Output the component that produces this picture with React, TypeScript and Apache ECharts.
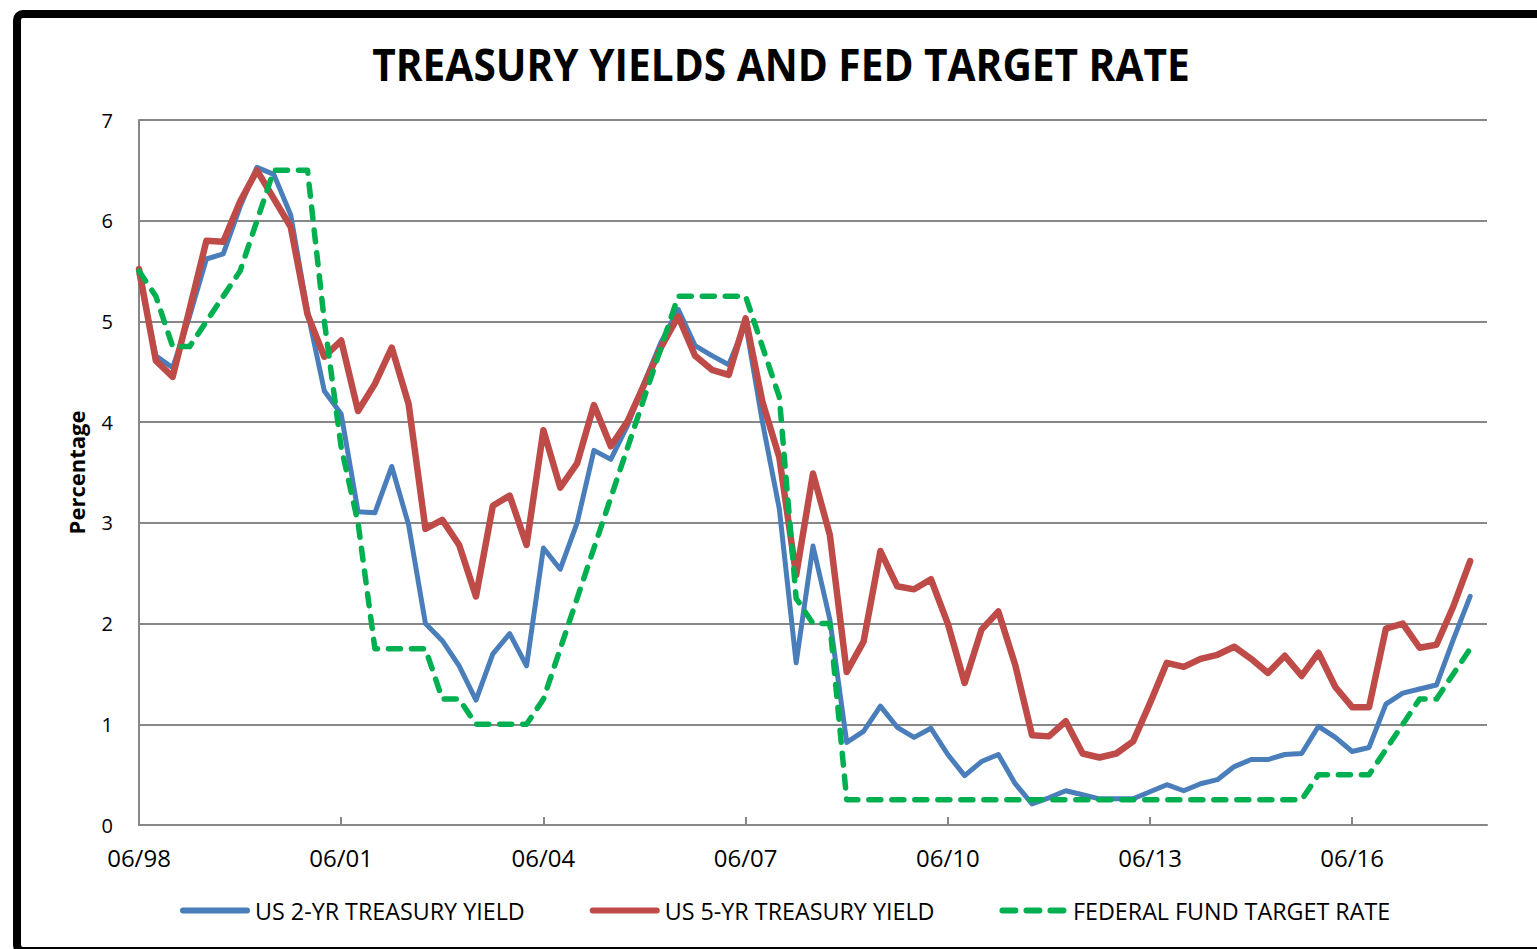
import React, { useEffect, useRef } from "react";
import * as echarts from "echarts";

const categories = [
  "06/98", "09/98", "12/98",
  "03/99", "06/99", "09/99", "12/99",
  "03/00", "06/00", "09/00", "12/00",
  "03/01", "06/01", "09/01", "12/01",
  "03/02", "06/02", "09/02", "12/02",
  "03/03", "06/03", "09/03", "12/03",
  "03/04", "06/04", "09/04", "12/04",
  "03/05", "06/05", "09/05", "12/05",
  "03/06", "06/06", "09/06", "12/06",
  "03/07", "06/07", "09/07", "12/07",
  "03/08", "06/08", "09/08", "12/08",
  "03/09", "06/09", "09/09", "12/09",
  "03/10", "06/10", "09/10", "12/10",
  "03/11", "06/11", "09/11", "12/11",
  "03/12", "06/12", "09/12", "12/12",
  "03/13", "06/13", "09/13", "12/13",
  "03/14", "06/14", "09/14", "12/14",
  "03/15", "06/15", "09/15", "12/15",
  "03/16", "06/16", "09/16", "12/16",
  "03/17", "06/17", "09/17", "12/17",
  "03/18", "06/18",
];

const yTicks = [0, 1, 2, 3, 4, 5, 6, 7];

const us2yr = [
  5.47, 4.66, 4.54, 5.05, 5.62, 5.67, 6.14, 6.53, 6.46, 6.06,
  5.10, 4.31, 4.08, 3.11, 3.10, 3.56, 2.98, 2.00, 1.83, 1.58,
  1.24, 1.70, 1.90, 1.58, 2.75, 2.54, 3.00, 3.72, 3.63, 3.97,
  4.40, 4.80, 5.12, 4.76, 4.66, 4.57, 4.98, 4.00, 3.14, 1.61,
  2.77, 2.04, 0.82, 0.93, 1.18, 0.97, 0.87, 0.96, 0.70, 0.49,
  0.63, 0.70, 0.41, 0.21, 0.27, 0.34, 0.30, 0.26, 0.26, 0.26,
  0.33, 0.40, 0.34, 0.41, 0.45, 0.58, 0.65, 0.65, 0.70, 0.71,
  0.98, 0.87, 0.73, 0.77, 1.20, 1.31, 1.35, 1.39, 1.84, 2.27,
];

const us5yr = [
  5.52, 4.61, 4.45, 5.12, 5.80, 5.79, 6.19, 6.50, 6.22, 5.94,
  5.07, 4.65, 4.81, 4.11, 4.38, 4.74, 4.18, 2.94, 3.03, 2.78,
  2.27, 3.17, 3.27, 2.78, 3.92, 3.35, 3.59, 4.17, 3.76, 4.01,
  4.38, 4.75, 5.05, 4.66, 4.52, 4.47, 5.03, 4.20, 3.65, 2.48,
  3.49, 2.88, 1.52, 1.82, 2.72, 2.37, 2.34, 2.44, 2.00, 1.41,
  1.94, 2.12, 1.59, 0.89, 0.88, 1.03, 0.71, 0.67, 0.71, 0.83,
  1.21, 1.61, 1.57, 1.65, 1.69, 1.77, 1.65, 1.51, 1.68, 1.48,
  1.71, 1.37, 1.17, 1.17, 1.95, 2.00, 1.76, 1.79, 2.17, 2.62,
];

const fedTarget = [
  5.50, 5.25, 4.75, 4.75, 5.00, 5.25, 5.50, 6.00, 6.50, 6.50,
  6.50, 5.00, 3.75, 3.00, 1.75, 1.75, 1.75, 1.75, 1.25, 1.25,
  1.00, 1.00, 1.00, 1.00, 1.25, 1.75, 2.25, 2.75, 3.25, 3.75,
  4.25, 4.75, 5.25, 5.25, 5.25, 5.25, 5.25, 4.75, 4.25, 2.25,
  2.00, 2.00, 0.25, 0.25, 0.25, 0.25, 0.25, 0.25, 0.25, 0.25,
  0.25, 0.25, 0.25, 0.25, 0.25, 0.25, 0.25, 0.25, 0.25, 0.25,
  0.25, 0.25, 0.25, 0.25, 0.25, 0.25, 0.25, 0.25, 0.25, 0.25,
  0.50, 0.50, 0.50, 0.50, 0.75, 1.00, 1.25, 1.25, 1.50, 1.75,
];

const seriesNames = [
  "US 2-YR TREASURY YIELD",
  "US 5-YR TREASURY YIELD",
  "FEDERAL FUND TARGET RATE",
];

const titleText = "TREASURY YIELDS AND FED TARGET RATE";
const yAxisName = "Percentage";

const solidIcon =
  "path://M3,0 L67,0 A3,3 0 0 1 67,6 L3,6 A3,3 0 0 1 3,0 Z";
const dashIcon =
  "path://M3,0 L16,0 A3,3 0 0 1 16,6 L3,6 A3,3 0 0 1 3,0 Z " +
  "M27,0 L40,0 A3,3 0 0 1 40,6 L27,6 A3,3 0 0 1 27,0 Z " +
  "M51,0 L64,0 A3,3 0 0 1 64,6 L51,6 A3,3 0 0 1 51,0 Z";

export default function App() {
  const ref = useRef<HTMLDivElement>(null);

  useEffect(() => {
    document.body.style.margin = "0";
    document.body.style.overflow = "hidden";
    if (!ref.current) return;
    const chart = echarts.init(ref.current, null, { renderer: "svg" });
    const gridColor = "#878787";
    const font = "'Open Sans', 'Liberation Sans', sans-serif";
    const blue = "#4A7EBB";
    const red = "#BE4B48";
    const green = "#00B050";
    chart.setOption({
      animation: false,
      backgroundColor: "#ffffff",
      graphic: [
        {
          type: "text",
          silent: true,
          x: 781,
          y: 41,
          scaleX: 0.903,
          style: {
            text: titleText,
            fontFamily: "'Open Sans', sans-serif",
            fontWeight: "bold",
            fontSize: 45,
            fill: "#000",
            textAlign: "center",
            textVerticalAlign: "top",
          },
        },
        {
          type: "rect",
          silent: true,
          z: 100,
          shape: { x: 17, y: 14, width: 1600, height: 937, r: 6 },
          style: { fill: "none", stroke: "#000", lineWidth: 8 },
        },
      ],
      grid: { left: 139, right: 50, top: 120, bottom: 124 },
      legend: {
        left: 175,
        top: 894,
        itemWidth: 70,
        itemHeight: 6,
        itemGap: 65,
        textStyle: { fontFamily: font, fontSize: 23.3, color: "#000" },
        data: [
          { name: seriesNames[0], icon: solidIcon, itemStyle: { color: blue } },
          { name: seriesNames[1], icon: solidIcon, itemStyle: { color: red } },
          { name: seriesNames[2], icon: dashIcon, itemStyle: { color: green } },
        ],
      },
      xAxis: {
        type: "category",
        data: categories,
        boundaryGap: false,
        axisLine: { show: true, lineStyle: { color: gridColor, width: 2 } },
        axisTick: {
          show: true,
          inside: true,
          length: 8,
          interval: 11,
          lineStyle: { color: gridColor, width: 2 },
        },
        axisLabel: {
          interval: 11,
          margin: 20,
          fontFamily: font,
          fontSize: 24,
          color: "#000",
        },
        splitLine: { show: false },
      },
      yAxis: {
        type: "value",
        min: yTicks[0],
        max: yTicks[yTicks.length - 1],
        interval: 1,
        name: yAxisName,
        nameLocation: "middle",
        nameGap: 52,
        nameTextStyle: {
          fontFamily: font,
          fontWeight: "bold",
          fontSize: 22,
          color: "#000",
        },
        axisLine: { show: true, lineStyle: { color: gridColor, width: 2 } },
        axisTick: { show: false },
        axisLabel: {
          margin: 26,
          fontFamily: font,
          fontSize: 20,
          color: "#000",
        },
        splitLine: { show: true, lineStyle: { color: gridColor, width: 2 } },
      },
      series: [
        {
          name: seriesNames[0],
          type: "line",
          data: us2yr,
          symbol: "none",
          color: blue,
          lineStyle: { width: 5, color: blue, cap: "round", join: "round" },
          z: 3,
        },
        {
          name: seriesNames[1],
          type: "line",
          data: us5yr,
          symbol: "none",
          color: red,
          lineStyle: { width: 6.5, color: red, cap: "round", join: "round" },
          z: 4,
        },
        {
          name: seriesNames[2],
          type: "line",
          data: fedTarget,
          symbol: "none",
          color: green,
          lineStyle: {
            width: 5.5,
            color: green,
            type: [12, 11],
            cap: "round",
            join: "round",
          },
          z: 5,
        },
      ],
    });
    return () => chart.dispose();
  }, []);

  return <div ref={ref} style={{ width: 1537, height: 949 }} />;
}
